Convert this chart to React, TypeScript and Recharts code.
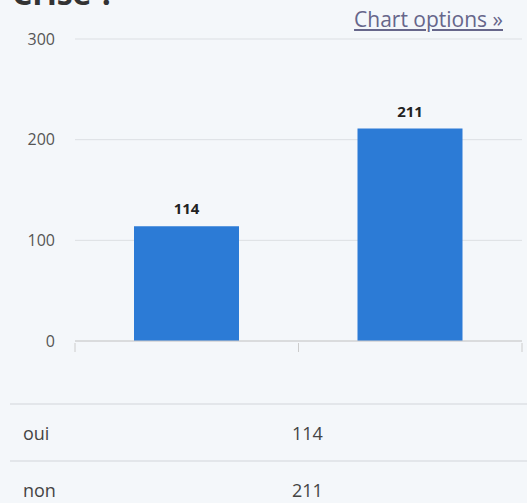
import React from "react"
import { BarChart, Bar, XAxis, YAxis, CartesianGrid, LabelList } from "recharts"

const categories = ["oui", "non"]
const values = [114, 211]
const yTicks = [0, 100, 200, 300]

const data = categories.map((name, i) => ({ name, value: values[i] }))

const FONT = "'Open Sans', sans-serif"

// tick marks sit on the category boundaries, not the centres
function BoundaryTick(props: any) {
  const { x, y, payload } = props
  const half = payload?.offset ?? 0
  return (
    <g>
      <line x1={x - half} y1={y - 6} x2={x - half} y2={y + 3} stroke="#ccc" />
      <line x1={x + half} y1={y - 6} x2={x + half} y2={y + 3} stroke="#ccc" />
    </g>
  )
}

export default function App() {
  return (
    <div
      style={{
        position: "absolute",
        left: 0,
        top: 0,
        width: 527,
        height: 503,
        overflow: "hidden",
        background: "#f4f7fa",
        fontFamily: FONT,
      }}
    >
      <div
        style={{
          position: "absolute",
          left: 12,
          top: -23,
          fontSize: 32,
          lineHeight: 1,
          fontWeight: 700,
          color: "#333",
        }}
      >
        Crise ?
      </div>
      <div
        style={{
          position: "absolute",
          right: 24,
          top: 5,
          fontSize: 21,
          color: "#66668a",
          textDecoration: "underline",
        }}
      >
        Chart options »
      </div>
      <div style={{ position: "absolute", left: 0, top: 0 }}>
        <BarChart
          width={527}
          height={360}
          data={data}
          margin={{ top: 39, right: 5, left: 0, bottom: 0 }}
          style={{ fontFamily: FONT }}
        >
          <CartesianGrid vertical={false} stroke="#dcdfe3" />
          <XAxis
            dataKey="name"
            height={19}
            stroke="#ccc"
            tickLine={false}
            tick={<BoundaryTick />}
          />
          <YAxis
            width={75}
            domain={[0, 300]}
            ticks={yTicks}
            axisLine={false}
            tickLine={false}
            tickMargin={14}
            tick={{ fontSize: 16, fill: "#555" }}
          />
          <Bar dataKey="value" fill="#2c7bd6" barSize={105} isAnimationActive={false}>
            <LabelList
              dataKey="value"
              position="top"
              offset={12}
              style={{ fontSize: 15, fontWeight: 700, fill: "#222" }}
            />
          </Bar>
        </BarChart>
      </div>
      <div style={{ position: "absolute", left: 10, top: 403, width: 517 }}>
        {data.map((d) => (
          <div
            key={d.name}
            style={{
              height: 55,
              borderTop: "2px solid #e3e6ea",
              display: "flex",
              alignItems: "center",
              fontSize: 18,
              color: "#444",
            }}
          >
            <span style={{ position: "absolute", left: 13 }}>{d.name}</span>
            <span style={{ position: "absolute", left: 282 }}>{d.value}</span>
          </div>
        ))}
      </div>
    </div>
  )
}
